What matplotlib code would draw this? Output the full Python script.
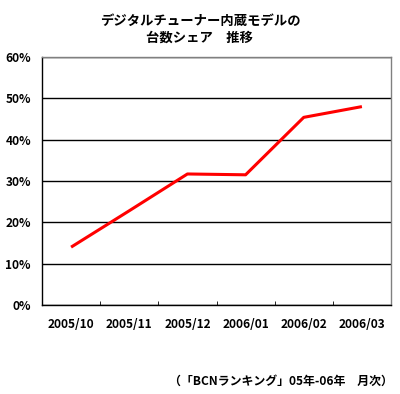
import matplotlib
matplotlib.use("Agg")
import matplotlib.pyplot as plt
from matplotlib.ticker import FixedLocator, FuncFormatter

plt.rcParams['font.family'] = ['Noto Sans CJK JP', 'DejaVu Sans']

months = ["2005/10", "2005/11", "2005/12", "2006/01", "2006/02", "2006/03"]
share = [14.0, 22.8, 31.7, 31.5, 45.4, 48.0]
yticks = [0, 10, 20, 30, 40, 50, 60]
title = "デジタルチューナー内蔵モデルの\n台数シェア　推移"
source = "（「BCNランキング」05年-06年　月次）"

fig = plt.figure(figsize=(4.0, 3.94), dpi=100)
ax = fig.add_axes([0.105, 1 - 305/394, 0.8725, (305 - 57)/394])

x = list(range(len(months)))
ax.plot(x, share, color="#ff0000", linewidth=2.2, solid_capstyle="butt")

ax.set_xlim(-0.5, len(months) - 0.5)
ax.set_ylim(0, 60)
ax.set_yticks(yticks)
ax.yaxis.set_major_formatter(FuncFormatter(lambda v, p: f"{int(v)}%"))
ax.set_xticks(x)
ax.set_xticklabels(months)
ax.xaxis.set_minor_locator(FixedLocator([i + 0.5 for i in range(len(months) - 1)]))
ax.tick_params(axis='x', which='major', length=0, pad=9)
ax.tick_params(axis='x', which='minor', length=3, direction='in', color='black')
ax.tick_params(axis='y', length=0, pad=8)
for lab in ax.get_xticklabels() + ax.get_yticklabels():
    lab.set_fontsize(8.6)
    lab.set_fontweight('bold')

ax.grid(axis='y', color='black', linewidth=1.0)
ax.set_axisbelow(True)
for s in ['left', 'bottom']:
    ax.spines[s].set_color('black')
    ax.spines[s].set_linewidth(1.0)
for s in ['top', 'right']:
    ax.spines[s].set_color('#808080')
    ax.spines[s].set_linewidth(1.0)

fig.text(0.5, 1 - 29/394, title, ha='center', va='center', fontsize=9.6,
         fontweight='bold', linespacing=1.25)
fig.text(393/400, 1 - 381/394, source, ha='right', va='center', fontsize=8.6,
         fontweight='bold')

fig.savefig("out.png", dpi=100, facecolor='white')
